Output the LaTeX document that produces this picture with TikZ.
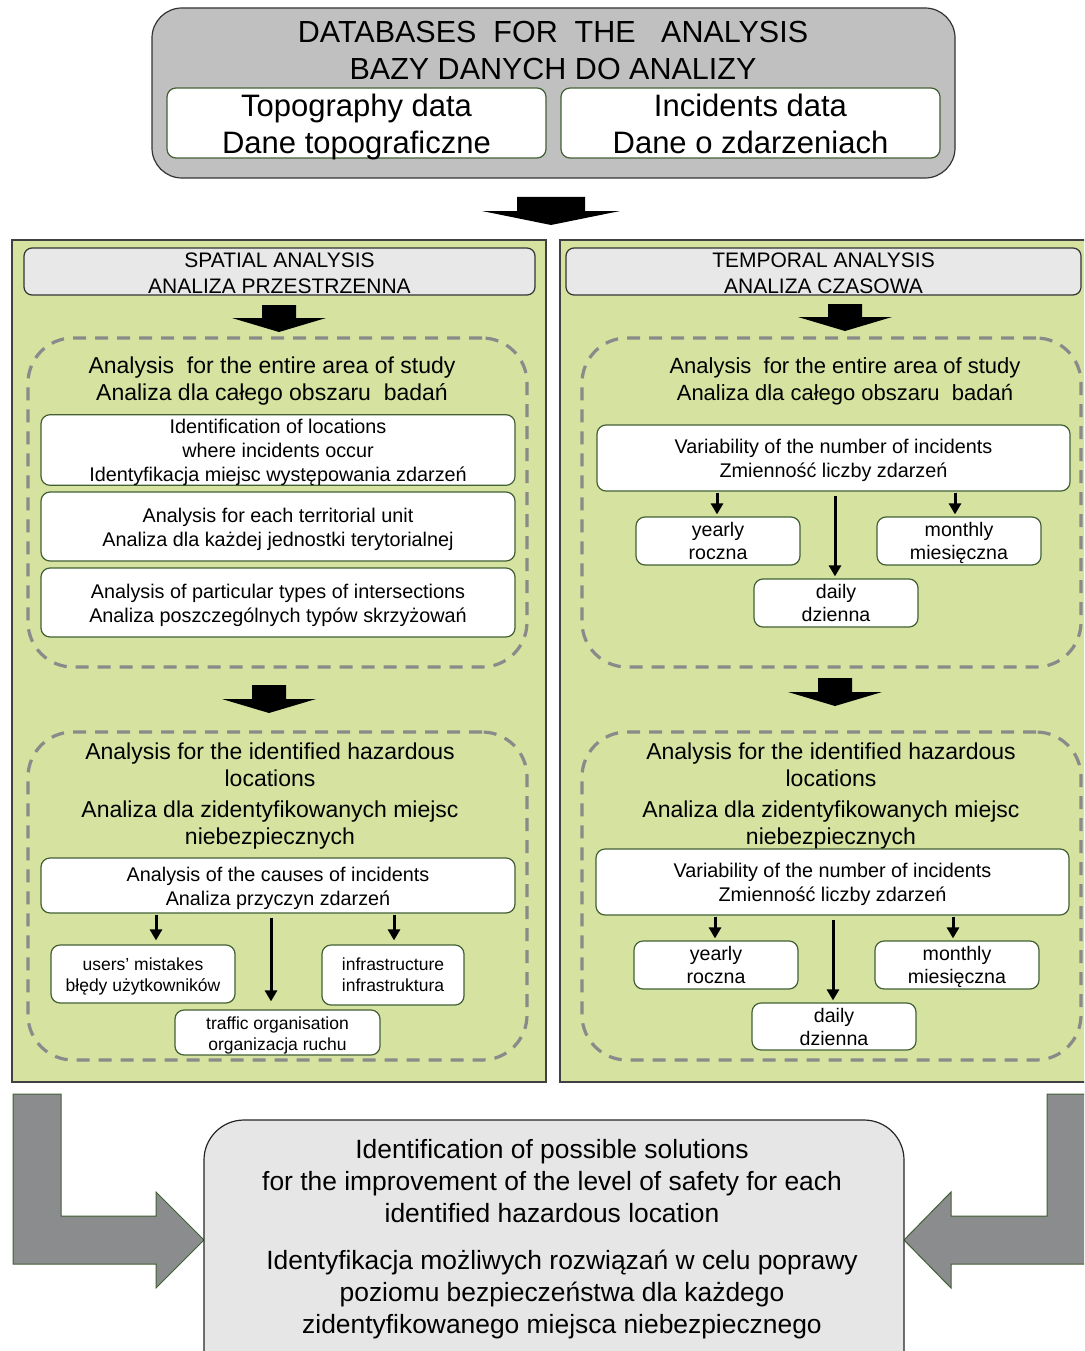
\documentclass[tikz,border=0pt]{standalone}
\usepackage{fontspec}
\setmainfont{Liberation Sans}
\usetikzlibrary{arrows.meta,positioning}

\definecolor{panelgreen}{RGB}{214,226,160}
\definecolor{boxgreen}{RGB}{66,96,52}
\definecolor{dashgray}{RGB}{138,138,138}
\definecolor{dbgray}{RGB}{192,192,192}
\definecolor{headgray}{RGB}{232,232,232}
\definecolor{solgray}{RGB}{230,230,230}
\definecolor{bigarrow}{RGB}{139,140,142}

\newcommand{\fs}[2]{\fontsize{#1}{#2}\selectfont}
\newcommand{\lineup}[1]{\rule{0pt}{#1pt}}
\newcommand{\nodepth}[1]{\raisebox{0pt}[\height][0pt]{#1}}

\tikzset{pics/blockdown/.style args={#1/#2/#3/#4}{code={
  \fill (-#1,0) -- (#1,0) -- (#1,#3) -- (#2,#3) -- (0,#4) -- (-#2,#3) -- (-#1,#3) -- cycle;}}}

\begin{document}
\begin{tikzpicture}[x=1pt,y=-1pt,
  box/.style={draw=boxgreen,fill=white,rounded corners=9pt,line width=1.2pt,
    align=center,inner sep=0pt},
  zone/.style={draw=dashgray,line width=3.2pt,dash pattern=on 13pt off 9pt,
    rounded corners=45pt,minimum width=499,minimum height=329,inner sep=0pt},
  head/.style={align=center,inner sep=0pt,font=\fs{23}{27}},
  tip/.style={line width=3pt,-{Triangle[length=11pt,width=12pt]},
    shorten <=1pt,shorten >=2pt}]
\useasboundingbox (0,0) rectangle (1084,1351);
\clip (0,0) rectangle (1084,1351);

% databases
\node[draw=black!80,fill=dbgray,rounded corners=30pt,line width=1.2pt,
  minimum width=803,minimum height=170,inner sep=0pt] (db) at (553.5,93) {};
\node[align=center,inner sep=0pt,font=\fs{30.5}{37}] (db_t) at (553,51)
  {DATABASES\ \ FOR\ \ THE\ \ \ ANALYSIS\\BAZY DANYCH DO ANALIZY};
\node[box,minimum width=379,minimum height=70,font=\fs{31}{37}] (topo) at (356.5,123)
  {\lineup{24}Topography data\\\nodepth{Dane topograficzne}};
\node[box,minimum width=379,minimum height=70,font=\fs{31}{37}] (incid) at (750.5,123)
  {\lineup{24.6}Incidents data\\Dane o zdarzeniach};
\pic at (551,197) {blockdown=34/69/14/28};

% panels
\draw[draw=black!75,fill=panelgreen,line width=1.2pt] (12,240) rectangle (546,1082);
\draw[draw=black!75,fill=panelgreen,line width=1.2pt] (560,240) rectangle (1100,1082);
\node[draw=black!80,fill=headgray,rounded corners=8pt,line width=1.2pt,
  minimum width=511,minimum height=47,inner sep=0pt,align=center,font=\fs{21}{26}]
  (s_head) at (279.5,271.5) {\lineup{18.3}SPATIAL ANALYSIS\\ANALIZA PRZESTRZENNA};
\node[draw=black!80,fill=headgray,rounded corners=8pt,line width=1.2pt,
  minimum width=515,minimum height=47,inner sep=0pt,align=center,font=\fs{21}{26}]
  (t_head) at (823.5,271.5) {\lineup{18.3}TEMPORAL ANALYSIS\\ANALIZA CZASOWA};
\pic at (279,305) {blockdown=17/47/13/27};
\pic at (845,304) {blockdown=17/47/13/27};

% spatial, entire area
\node[zone] (s_all) at (277.5,502.5) {};
\node[head] (s_all_t) at (272,381)
  {Analysis\ \ for the entire area of study\\Analiza dla całego obszaru\ \ badań};
\node[box,minimum width=474,minimum height=70,font=\fs{19.8}{24}] (s_loc) at (278,450)
  {\lineup{18.5}Identification of locations\\where incidents occur\\Identyfikacja miejsc występowania zdarzeń};
\node[box,minimum width=474,minimum height=69,font=\fs{19.8}{24}] (s_unit) at (278,526.5)
  {\lineup{20.5}Analysis for each territorial unit\\Analiza dla każdej jednostki terytorialnej};
\node[box,minimum width=474,minimum height=69,font=\fs{19.8}{24}] (s_types) at (278,602.5)
  {\lineup{20.5}Analysis of particular types of intersections\\Analiza poszczególnych typów skrzyżowań};
\pic at (269,685) {blockdown=17/47/14/28};

% spatial, hazardous locations
\node[zone,minimum height=328] (s_haz) at (277.5,896) {};
\node[head] (s_haz_t) at (270,796)
  {Analysis for the identified hazardous\\locations\\[4pt]
   Analiza dla zidentyfikowanych miejsc\\niebezpiecznych};
\node[box,minimum width=474,minimum height=55,font=\fs{19.8}{24}] (s_cause) at (278,885.5)
  {\lineup{20.5}Analysis of the causes of incidents\\Analiza przyczyn zdarzeń};
\node[box,minimum width=184,minimum height=58,font=\fs{17.5}{21}] (s_users) at (143,974)
  {\lineup{16.8}users’ mistakes\\błędy użytkowników};
\node[box,minimum width=142,minimum height=60,font=\fs{17.5}{21}] (s_infra) at (393,975)
  {infrastructure\\infrastruktura};
\node[box,minimum width=205,minimum height=45,font=\fs{17.5}{21}] (s_traf) at (277.5,1032.5)
  {\lineup{18.8}traffic organisation\\organizacja ruchu};
\draw[tip,shorten >=4pt] (156,0 |- s_cause.south) -- (156,0 |- s_users.north);
\draw[tip,shorten <=4pt,shorten >=8pt] (271,0 |- s_cause.south) -- (271,0 |- s_traf.north);
\draw[tip,shorten >=4pt] (394,0 |- s_cause.south) -- (394,0 |- s_infra.north);

% temporal, entire area
\node[zone] (t_all) at (831.5,502.5) {};
\node[head,font=\fs{22}{27}] (t_all_t) at (845,381)
  {Analysis\ \ for the entire area of study\\Analiza dla całego obszaru\ \ badań};
\node[box,minimum width=473,minimum height=66,font=\fs{19.8}{24}] (t_var) at (833.5,458)
  {\lineup{18.5}Variability of the number of incidents\\Zmienność liczby zdarzeń};
\node[box,minimum width=164,minimum height=48,font=\fs{19.6}{23}] (t_year) at (718,541)
  {yearly\\roczna};
\node[box,minimum width=164,minimum height=48,font=\fs{19.6}{23}] (t_month) at (959,541)
  {\lineup{18.3}monthly\\miesięczna};
\node[box,minimum width=164,minimum height=48,font=\fs{19.6}{23}] (t_day) at (836,603)
  {daily\\dzienna};
\draw[tip] (717,0 |- t_var.south) -- (717,0 |- t_year.north);
\draw[tip,shorten <=4pt] (835,0 |- t_var.south) -- (835,0 |- t_day.north);
\draw[tip] (955,0 |- t_var.south) -- (955,0 |- t_month.north);
\pic at (835,678) {blockdown=17/47/14/28};

% temporal, hazardous locations
\node[zone,minimum height=328] (t_haz) at (831.5,896) {};
\node[head] (t_haz_t) at (831,796)
  {Analysis for the identified hazardous\\locations\\[4pt]
   Analiza dla zidentyfikowanych miejsc\\niebezpiecznych};
\node[box,minimum width=473,minimum height=66,font=\fs{19.8}{24}] (t_var2) at (832.5,882)
  {\lineup{18.5}Variability of the number of incidents\\Zmienność liczby zdarzeń};
\node[box,minimum width=164,minimum height=48,font=\fs{19.6}{23}] (t_year2) at (716,965)
  {yearly\\roczna};
\node[box,minimum width=164,minimum height=48,font=\fs{19.6}{23}] (t_month2) at (957,965)
  {\lineup{18.3}monthly\\miesięczna};
\node[box,minimum width=164,minimum height=47,font=\fs{19.6}{23}] (t_day2) at (834,1026.5)
  {daily\\dzienna};
\draw[tip] (715,0 |- t_var2.south) -- (715,0 |- t_year2.north);
\draw[tip,shorten <=4pt] (833,0 |- t_var2.south) -- (833,0 |- t_day2.north);
\draw[tip] (953,0 |- t_var2.south) -- (953,0 |- t_month2.north);

% solutions
\filldraw[draw=boxgreen,fill=bigarrow,line width=1pt]
  (13,1094) -- (61,1094) -- (61,1216) -- (156,1216) -- (156,1192) -- (204,1240)
  -- (156,1288) -- (156,1264) -- (13,1264) -- cycle;
\filldraw[draw=boxgreen,fill=bigarrow,line width=1pt]
  (1100,1094) -- (1047,1094) -- (1047,1216) -- (951,1216) -- (951,1192) -- (904,1240)
  -- (951,1288) -- (951,1264) -- (1100,1264) -- cycle;
\node[draw=black!85,fill=solgray,rounded corners=40pt,line width=1.2pt,
  minimum width=700,minimum height=300,inner sep=0pt] (sol) at (554,1270) {};
\node[align=center,inner sep=0pt,font=\fs{26.4}{32}] (sol_en) at (552,1181)
  {Identification of possible solutions\\for the improvement of the level of safety for each\\identified hazardous location};
\node[align=center,inner sep=0pt,font=\fs{26.4}{32}] (sol_pl) at (562,1295)
  {Identyfikacja możliwych rozwiązań w celu poprawy\\poziomu bezpieczeństwa dla każdego\\zidentyfikowanego miejsca niebezpiecznego};
\end{tikzpicture}
\end{document}
